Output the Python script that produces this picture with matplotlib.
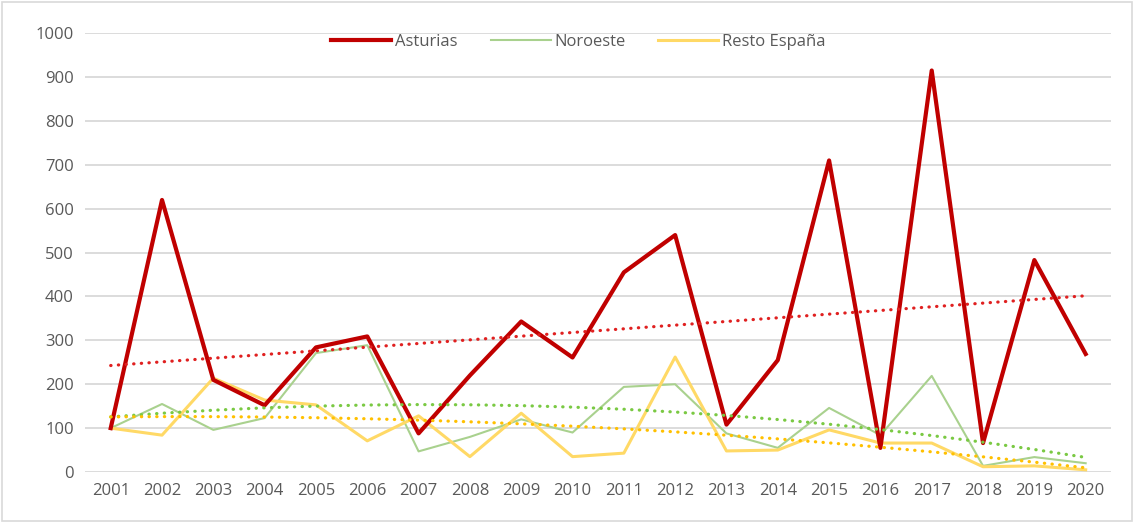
import matplotlib.pyplot as plt
import numpy as np
from matplotlib.patches import Rectangle

plt.rcParams['font.family'] = ['Open Sans', 'DejaVu Sans']

# Data
years = [str(y) for y in range(2001, 2021)]
asturias = [100, 620, 210, 152, 284, 309, 88, 220, 343, 261,
            455, 540, 108, 255, 710, 55, 915, 66, 483, 269]
noroeste = [100, 155, 96, 123, 271, 289, 47, 80, 120, 90,
            194, 200, 88, 55, 146, 84, 219, 14, 34, 20]
resto = [100, 84, 214, 164, 153, 71, 128, 35, 134, 35,
         43, 262, 48, 50, 96, 66, 66, 12, 14, 5]

x = np.arange(len(years))

# Trend lines (linear for Asturias, 2nd order polynomial for the others)
trend_ast = np.polyval(np.polyfit(x, asturias, 1), x)
trend_nor = np.polyval(np.polyfit(x, noroeste, 2), x)
trend_res = np.polyval(np.polyfit(x, resto, 2), x)

fig = plt.figure(figsize=(11.34, 5.23), dpi=100)
ax = fig.add_axes([0.075, 0.0975, 0.905, 0.839])

ax.plot(x, asturias, color='#C00000', lw=3.0, label='Asturias', zorder=5)
ax.plot(x, noroeste, color='#A9D18E', lw=1.5, label='Noroeste', zorder=3)
ax.plot(x, resto, color='#FFD966', lw=2.2, label='Resto España', zorder=4)

dots = (0, (0.1, 2.3))
ax.plot(x, trend_ast, color='#E02020', lw=2.3, ls=dots, dash_capstyle='round', zorder=6)
ax.plot(x, trend_nor, color='#7AC943', lw=2.3, ls=dots, dash_capstyle='round', zorder=6)
ax.plot(x, trend_res, color='#FFC000', lw=2.3, ls=dots, dash_capstyle='round', zorder=6)

ax.set_xlim(-0.5, len(years) - 0.5)
ax.set_ylim(0, 1000)
ax.set_yticks(range(0, 1001, 100))
ax.set_xticks(x)
ax.set_xticklabels(years)
ax.grid(axis='y', color='#D9D9D9', lw=1.3)
ax.set_axisbelow(True)
for s in ax.spines.values():
    s.set_visible(False)
ax.tick_params(length=0, labelsize=12, colors='#595959', pad=8)

leg = fig.legend(loc='center', bbox_to_anchor=(0.51, 0.92), ncol=3, frameon=False,
                 fontsize=12, handlelength=3.6, columnspacing=2.0, handletextpad=0.2)
for t in leg.get_texts():
    t.set_color('#595959')

fig.patches.append(Rectangle((0.002, 0.004), 0.996, 0.992, transform=fig.transFigure,
                             fill=False, edgecolor='#D9D9D9', lw=1.2))

fig.savefig('out.png', dpi=100)
